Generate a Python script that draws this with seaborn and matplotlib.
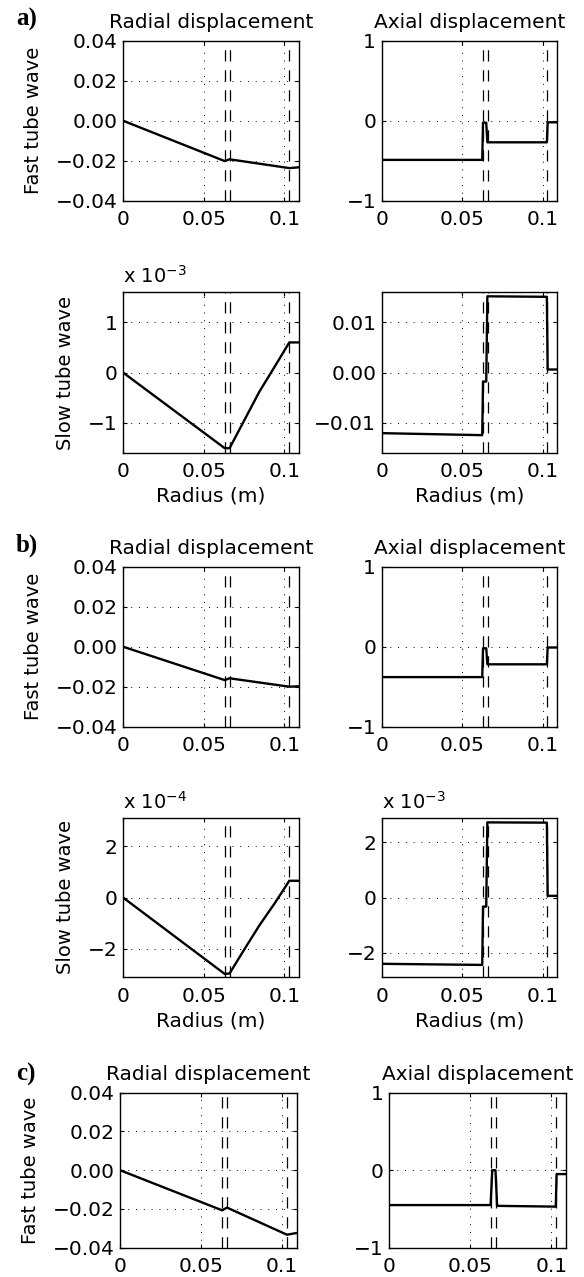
import matplotlib
matplotlib.use("Agg")
import matplotlib.pyplot as plt
from matplotlib.ticker import FixedLocator, FuncFormatter
import pandas as pd
import seaborn as sns

sns.set_theme(style="white")
plt.rcParams["font.family"] = ["DejaVu Sans"]
plt.rcParams["mathtext.default"] = "regular"
plt.rcParams["text.color"] = "black"
plt.rcParams["axes.labelcolor"] = "black"
plt.rcParams["xtick.color"] = "black"
plt.rcParams["ytick.color"] = "black"

# Radii of the layer interfaces (m) and the radius ticks
interfaces = [0.063, 0.066, 0.103]
radius_ticks = [0.0, 0.05, 0.1]
radius_max = 0.109

# ---- a) ----
a_fast_radial_r = [0.0, 0.063, 0.066, 0.103, 0.109]
a_fast_radial_u = [0.0, -0.0202, -0.0193, -0.0237, -0.0233]
a_fast_axial_r = [0.0, 0.0625, 0.063, 0.065, 0.0657, 0.1027, 0.1032, 0.109]
a_fast_axial_u = [-0.49, -0.49, -0.025, -0.025, -0.27, -0.27, -0.02, -0.02]
a_slow_radial_r = [0.0, 0.063, 0.066, 0.0755, 0.0845, 0.094, 0.103, 0.109]
a_slow_radial_u = [0.0, -1.51e-3, -1.51e-3, -0.93e-3, -0.38e-3, 0.12e-3, 0.60e-3, 0.60e-3]
a_slow_axial_r = [0.0, 0.0625, 0.063, 0.065, 0.0657, 0.1027, 0.1032, 0.109]
a_slow_axial_u = [-0.0121, -0.0125, -0.0018, -0.0018, 0.0152, 0.0151, 0.0006, 0.0006]

# ---- b) ----
b_fast_radial_r = [0.0, 0.063, 0.066, 0.103, 0.109]
b_fast_radial_u = [0.0, -0.0167, -0.0158, -0.0200, -0.0198]
b_fast_axial_r = [0.0, 0.0625, 0.063, 0.065, 0.0657, 0.1027, 0.1032, 0.109]
b_fast_axial_u = [-0.38, -0.38, -0.02, -0.02, -0.22, -0.22, -0.01, -0.01]
b_slow_radial_r = [0.0, 0.063, 0.066, 0.0755, 0.0845, 0.094, 0.103, 0.109]
b_slow_radial_u = [0.0, -2.97e-4, -2.95e-4, -1.98e-4, -1.08e-4, -0.22e-4, 0.65e-4, 0.65e-4]
b_slow_axial_r = [0.0, 0.0625, 0.063, 0.065, 0.0657, 0.1027, 0.1032, 0.109]
b_slow_axial_u = [-2.41e-3, -2.45e-3, -0.33e-3, -0.33e-3, 2.73e-3, 2.72e-3, 0.06e-3, 0.06e-3]

# ---- c) ----
c_fast_radial_r = [0.0, 0.063, 0.066, 0.103, 0.109]
c_fast_radial_u = [0.0, -0.0207, -0.0193, -0.0333, -0.0324]
c_fast_axial_r = [0.0, 0.0625, 0.0635, 0.0655, 0.0665, 0.1027, 0.1032, 0.109]
c_fast_axial_u = [-0.45, -0.45, 0.0, 0.0, -0.46, -0.47, -0.05, -0.05]

# Axis settings shared by the panel types
fast_radial_ticks = [-0.04, -0.02, 0.0, 0.02, 0.04]
fast_axial_ticks = [-1, 0, 1]

W, H = 584, 1277
fig = plt.figure(figsize=(W / 100, H / 100), dpi=100)


def rect(x0, y0, w, h):
    return [x0 / W, 1 - (y0 + h) / H, w / W, h / H]


def fmt(decimals, scale=1.0):
    def f(v, pos):
        s = f"{v / scale:.{decimals}f}"
        if s.startswith("-") and float(s) == 0:
            s = s[1:]
        return s.replace("-", "\u2212")
    return FuncFormatter(f)


def panel(box, r, u, ylim, yticks, formatter, title=None, ylabel=None,
          xlabel=None, exponent=None, xpad=7):
    ax = fig.add_axes(rect(*box))
    ax.set_xlim(0, radius_max)
    ax.set_ylim(*ylim)
    ax.xaxis.set_major_locator(FixedLocator(radius_ticks))
    ax.xaxis.set_major_formatter(FuncFormatter(lambda v, p: f"{v:g}"))
    ax.yaxis.set_major_locator(FixedLocator(yticks))
    ax.yaxis.set_major_formatter(formatter)
    ax.grid(True, color="black", lw=0.7, ls=(0, (1, 7)))
    for x in interfaces:
        ax.axvline(x, color="black", lw=0.9, ls=(0, (9, 7)), zorder=2)
    df = pd.DataFrame({"r": r, "u": u})
    sns.lineplot(data=df, x="r", y="u", ax=ax, color="black", lw=1.7,
                 sort=False, estimator=None, zorder=3)
    ax.set_xlabel(xlabel if xlabel else "", fontsize=14.5, labelpad=4)
    ax.set_ylabel(ylabel if ylabel else "", fontsize=14, labelpad=9)
    if title:
        ax.set_title(title, fontsize=14.5, pad=9)
    for s in ax.spines.values():
        s.set_color("black")
        s.set_linewidth(1.0)
        s.set_visible(True)
    ax.tick_params(axis="both", direction="in", length=3, width=0.8,
                   top=True, right=True, bottom=True, left=True,
                   labelsize=14.5, colors="black")
    ax.tick_params(axis="x", pad=xpad)
    ax.tick_params(axis="y", pad=4)
    if exponent is not None:
        ax.annotate(f"x 10$^{{{exponent}}}$", xy=(0, 1), xycoords="axes fraction",
                    xytext=(0, 6.5), textcoords="offset points",
                    ha="left", va="baseline", fontsize=14)
    return ax


LX, RX, AW = 123, 381.7, 176
# a)
panel((LX, 40.7, AW, 160), a_fast_radial_r, a_fast_radial_u, (-0.04, 0.04),
      fast_radial_ticks, fmt(2), title="Radial displacement", ylabel="Fast tube wave")
panel((RX, 40.7, AW - 0.7, 160), a_fast_axial_r, a_fast_axial_u, (-1, 1),
      fast_axial_ticks, fmt(0), title="Axial displacement")
panel((LX, 292.3, AW, 160.4), a_slow_radial_r, a_slow_radial_u, (-1.6e-3, 1.6e-3),
      [-1e-3, 0, 1e-3], fmt(0, 1e-3), ylabel="Slow tube wave",
      xlabel="Radius (m)", exponent=-3)
panel((RX, 292.3, AW - 0.7, 160.4), a_slow_axial_r, a_slow_axial_u, (-0.016, 0.016),
      [-0.01, 0, 0.01], fmt(2), xlabel="Radius (m)")

# b)
panel((LX, 566.7, AW, 160), b_fast_radial_r, b_fast_radial_u, (-0.04, 0.04),
      fast_radial_ticks, fmt(2), title="Radial displacement", ylabel="Fast tube wave")
panel((RX, 566.7, AW - 0.7, 160), b_fast_axial_r, b_fast_axial_u, (-1, 1),
      fast_axial_ticks, fmt(0), title="Axial displacement")
panel((LX, 817.7, AW, 159.6), b_slow_radial_r, b_slow_radial_u, (-3.1e-4, 3.1e-4),
      [-2e-4, 0, 2e-4], fmt(0, 1e-4), ylabel="Slow tube wave",
      xlabel="Radius (m)", exponent=-4)
panel((RX, 817.7, AW - 0.7, 159.6), b_slow_axial_r, b_slow_axial_u, (-2.9e-3, 2.9e-3),
      [-2e-3, 0, 2e-3], fmt(0, 1e-3), xlabel="Radius (m)", exponent=-3)

# c)
panel((120, 1092.7, 176.7, 155), c_fast_radial_r, c_fast_radial_u, (-0.04, 0.04),
      fast_radial_ticks, fmt(2), title="Radial displacement", ylabel="Fast tube wave")
panel((389.3, 1092.7, 176.7, 155), c_fast_axial_r, c_fast_axial_u, (-1, 1),
      fast_axial_ticks, fmt(0), title="Axial displacement")

for label, y in [("a)", 26), ("b)", 552), ("c)", 1081)]:
    fig.text(16 / W, 1 - y / H, label, family=["Liberation Serif"],
             fontweight="bold", fontsize=18, ha="left", va="baseline")

fig.savefig("out.png", dpi=100)
